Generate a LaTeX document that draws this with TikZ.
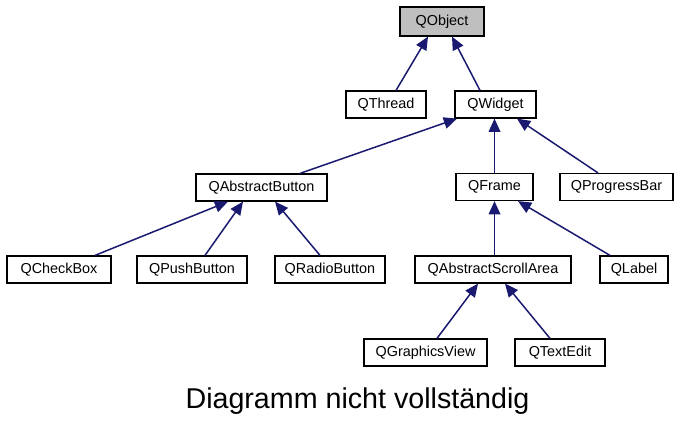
\documentclass[tikz,border=0pt]{standalone}
\usepackage{fontspec}
\setmainfont{Liberation Sans}
\usetikzlibrary{arrows.meta, positioning}
\definecolor{edgeBlue}{HTML}{191970}
\definecolor{rootGrey}{HTML}{BFBFBF}

\begin{document}
\begin{tikzpicture}[
    cls/.style={rectangle, draw=black, line width=0.7pt, fill=white,
                minimum height=0.54cm, inner sep=0pt,
                font=\fontsize{8.2}{10}\selectfont},
    rootc/.style={cls, fill=rootGrey, minimum height=0.58cm},
    inh/.style={draw=edgeBlue, line width=0.85pt,
                -{Triangle[length=7.5pt, width=6.6pt]}},
  ]
    \useasboundingbox (0,0) rectangle (13.6,-8.6);

    % ─── top levels ───
    \node[rootc, minimum width=1.68cm] (qobject) at (8.84,-0.43) {QObject};
    \node[cls, minimum width=1.60cm] (qthread) at (7.72,-2.09) {QThread};
    \node[cls, minimum width=1.62cm] (qwidget) at (9.91,-2.09) {QWidget};

    % ─── widget level ───
    \node[cls, minimum width=2.62cm] (qabstractbutton) at (5.23,-3.75) {QAbstractButton};
    \node[cls, minimum width=1.54cm] (qframe) at (9.89,-3.74) {QFrame};
    \node[cls, minimum width=2.26cm] (qprogressbar) at (12.33,-3.74) {QProgressBar};

    % ─── buttons, frames ───
    \node[cls, minimum width=2.08cm] (qcheckbox) at (1.18,-5.39) {QCheckBox};
    \node[cls, minimum width=2.20cm] (qpushbutton) at (3.84,-5.39) {QPushButton};
    \node[cls, minimum width=2.20cm] (qradiobutton) at (6.60,-5.39) {QRadioButton};
    \node[cls, minimum width=3.12cm] (qscrollarea) at (9.86,-5.39) {QAbstractScrollArea};
    \node[cls, minimum width=1.36cm] (qlabel) at (12.68,-5.39) {QLabel};

    % ─── scroll areas ───
    \node[cls, minimum width=2.46cm] (qgraphicsview) at (8.51,-7.05) {QGraphicsView};
    \node[cls, minimum width=1.80cm] (qtextedit) at (11.20,-7.05) {QTextEdit};

    % ─── inheritance arrows ───
    \draw[inh] ([xshift=0.20cm]qthread.north) -- ([xshift=-0.28cm]qobject.south);
    \draw[inh] ([xshift=-0.31cm]qwidget.north) -- ([xshift=0.20cm]qobject.south);
    \draw[inh] ([xshift=0.77cm]qabstractbutton.north) -- ([xshift=-0.77cm]qwidget.south);
    \draw[inh] (qframe.north) -- (qframe.north |- qwidget.south);
    \draw[inh] ([xshift=-0.37cm]qprogressbar.north) -- ([xshift=0.43cm]qwidget.south);
    \draw[inh] ([xshift=0.72cm]qcheckbox.north) -- ([xshift=-0.67cm]qabstractbutton.south);
    \draw[inh] ([xshift=0.26cm]qpushbutton.north) -- ([xshift=-0.37cm]qabstractbutton.south);
    \draw[inh] ([xshift=-0.20cm]qradiobutton.north) -- ([xshift=0.27cm]qabstractbutton.south);
    \draw[inh] (qframe.south |- qscrollarea.north) -- (qframe.south);
    \draw[inh] ([xshift=-0.48cm]qlabel.north) -- ([xshift=0.47cm]qframe.south);
    \draw[inh] ([xshift=0.23cm]qgraphicsview.north) -- ([xshift=-0.30cm]qscrollarea.south);
    \draw[inh] ([xshift=-0.20cm]qtextedit.north) -- ([xshift=0.24cm]qscrollarea.south);

    % ─── caption ───
    \node[font=\fontsize{16.3}{19}\selectfont] (caption) at (7.15,-8.02) {Diagramm nicht vollständig};
  \end{tikzpicture}
\end{document}
